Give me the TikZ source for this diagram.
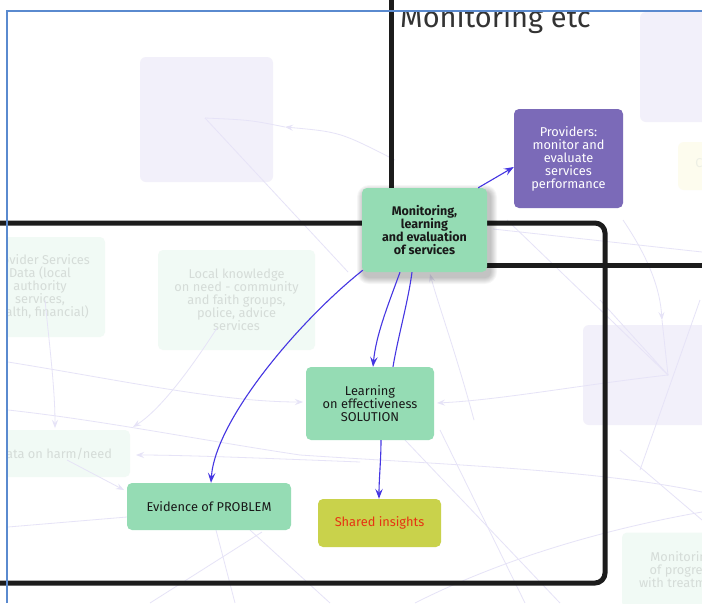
\documentclass[tikz,border=0pt]{standalone}
\usepackage{fontspec}
\setmainfont{Fira Sans}
\usetikzlibrary{arrows.meta,calc}

\definecolor{mgreen}{HTML}{95DCB4}
\definecolor{mpurple}{HTML}{7B6AB8}
\definecolor{myellow}{HTML}{C9D24B}
\definecolor{mred}{HTML}{E63312}
\definecolor{mblue}{HTML}{4536E2}
\definecolor{faintline}{HTML}{E6E3F7}
\definecolor{palelav}{HTML}{F2F0FA}
\definecolor{palegreen}{HTML}{F1FAF5}
\definecolor{paleyellow}{HTML}{FDFCEE}
\definecolor{fainttext}{HTML}{D5DCD8}
\definecolor{frameblue}{HTML}{5A8ACF}
\definecolor{groupline}{HTML}{1C1C1C}
\definecolor{titlegray}{HTML}{333333}

\tikzset{
  box/.style={rectangle, rounded corners=5pt, align=center, font=\fontsize{12.8}{13}\selectfont, inner sep=2pt},
  greenbox/.style={box, fill=mgreen, text=black!90},
  ghostbox/.style={box, text=fainttext},
  conn/.style={draw=mblue, line width=1.1pt, -{Stealth[length=10pt,width=7.5pt,inset=4pt]}},
  connplain/.style={draw=mblue, line width=1.1pt},
  faint/.style={draw=faintline, line width=0.8pt},
  faintarrow/.style={faint, -{Stealth[length=8pt,width=6pt,inset=3pt]}},
  group/.style={draw=groupline, line width=5pt},
}

\begin{document}
\begin{tikzpicture}[x=1pt, y=-1pt]
\path[use as bounding box, fill=white] (0,0) rectangle (702,603);

\begin{scope}
\clip (8,12) rectangle (702,603);

% faded background elements
\fill[palelav, rounded corners=6pt] (140,57) rectangle (273,182);
\fill[palelav, rounded corners=6pt] (640,12) rectangle (740,122);
\fill[paleyellow, rounded corners=6pt] (678,142) rectangle (740,190);
\node[text=paleyellow!60!fainttext, font=\fontsize{12.8}{13}\selectfont] (cfrag) at (699,163) {C};
\fill[palelav, rounded corners=6pt] (583,325) rectangle (760,425);

\node[ghostbox, fill=palegreen, minimum width=130pt, minimum height=100pt] (provdata) at (40,287)
  {Provider Services\\Data (local\\authority\\services,\\health, financial)};
\node[ghostbox, fill=palegreen, minimum width=157pt, minimum height=100pt] (localk) at (236.5,300)
  {Local knowledge\\on need - community\\and faith groups,\\police, advice\\services};
\node[ghostbox, fill=palegreen, minimum width=150pt, minimum height=47pt] (harm) at (55,453.5)
  {Data on harm/need};
\node[ghostbox, fill=palegreen, minimum width=120pt, minimum height=75pt] (progress) at (682,570)
  {Monitoring\\of progress\\with treatment};

% faint background connectors
\draw[faintarrow] (395,160) .. controls (340,132) .. (285,127);
\draw[faint] (285,127) .. controls (250,120) .. (205,118);
\draw[faint] (205,118) -- (348,272);
\draw[faintarrow] (8,362) .. controls (120,380) and (220,402) .. (303,402);
\draw[faintarrow] (668,375) .. controls (580,385) and (500,400) .. (437,403);
\draw[faint] (507,220) -- (668,375);
\draw[faintarrow] (623,220) .. controls (650,260) and (660,290) .. (662,320);
\draw[faint] (662,320) -- (668,375);
\draw[faint] (493,229) -- (702,252);
\draw[faint] (600,300) -- (668,375);
\draw[faintarrow] (45,300) .. controls (50,350) and (55,390) .. (55,428);
\draw[faintarrow] (217,328) .. controls (190,370) and (160,410) .. (133,427);
\draw[faintarrow] (360,462) .. controls (260,458) and (180,455) .. (136,455);
\draw[faintarrow] (67,460) -- (124,490);
\draw[faintarrow] (474,420) .. controls (455,350) and (440,310) .. (430,274);
\draw[faint] (8,527) -- (127,517);
\draw[faint] (150,603) -- (262,532);
\draw[faint] (216,530) -- (235,603);
\draw[faint] (250,530) -- (330,603);
\draw[faint] (440,430) -- (525,603);
\draw[faint] (405,440) -- (560,603);
\draw[faint] (300,455) .. controls (450,465) and (600,470) .. (702,492);
\draw[faint] (415,603) .. controls (500,560) and (600,530) .. (702,512);
\draw[faint] (8,410) .. controls (100,420) and (200,440) .. (300,455);
\draw[faint] (620,450) -- (702,520);
\draw[faint] (700,300) -- (640,470);
\end{scope}

% group outlines
\draw[group, rounded corners=10pt] (-20,223) -- (605,223) -- (605,583) -- (-20,583);
\draw[group] (391,-20) -- (391,265) -- (730,265);

% group title, cut by the window edge
\begin{scope}
\clip (8,12) rectangle (702,603);
\node[anchor=base west, text=titlegray, font=\fontsize{29}{32}\selectfont, inner sep=0pt] (title) at (400,27) {Monitoring etc};
\end{scope}

% soft shadow under the selected element
\foreach \i in {1,...,7}{
  \fill[black, opacity=0.035, rounded corners=5pt+\i pt] (364-\i,192-\i) rectangle (490+\i,277+\i);
}

% main elements
\node[greenbox, font=\bfseries\fontsize{12.5}{13}\selectfont, minimum width=125pt, minimum height=84pt] (mon) at (424.5,230)
  {Monitoring,\\learning\\and evaluation\\of services};
\node[box, fill=mpurple, text=white, minimum width=109pt, minimum height=99pt] (prov) at (568.5,158.5)
  {Providers:\\monitor and\\evaluate\\services\\performance};
\node[greenbox, minimum width=128pt, minimum height=73pt] (learn) at (370,403.5)
  {Learning\\on effectiveness\\SOLUTION};
\node[greenbox, minimum width=164pt, minimum height=47pt] (evid) at (209,506.5)
  {Evidence of PROBLEM};
\node[box, fill=myellow, text=mred, minimum width=123pt, minimum height=48pt] (shared) at (379.5,523)
  {Shared insights};

% connectors
\draw[conn] ([xshift=-9pt]mon.north east) -- ([yshift=-8.5pt]prov.west);
\draw[conn] ([xshift=1pt,yshift=2pt]mon.south west) .. controls +(-63,50) and +(4,-63) .. ([xshift=2pt]evid.north);
\draw[conn] ([xshift=-24.5pt]mon.south) .. controls +(-12,33) and +(3,-32) .. ([xshift=3pt]learn.north);
\draw[connplain] ([xshift=23pt]learn.north) .. controls +(5,-30) and +(-4,30) .. ([xshift=-12.5pt]mon.south);
\draw[conn] ([xshift=11pt]learn.south) .. controls +(0,20) and +(0,-20) .. ([xshift=-0.5pt]shared.north);

% window frame
\draw[frameblue, line width=1.6pt] (7,603) -- (7,11) -- (702,11);
\end{tikzpicture}
\end{document}
